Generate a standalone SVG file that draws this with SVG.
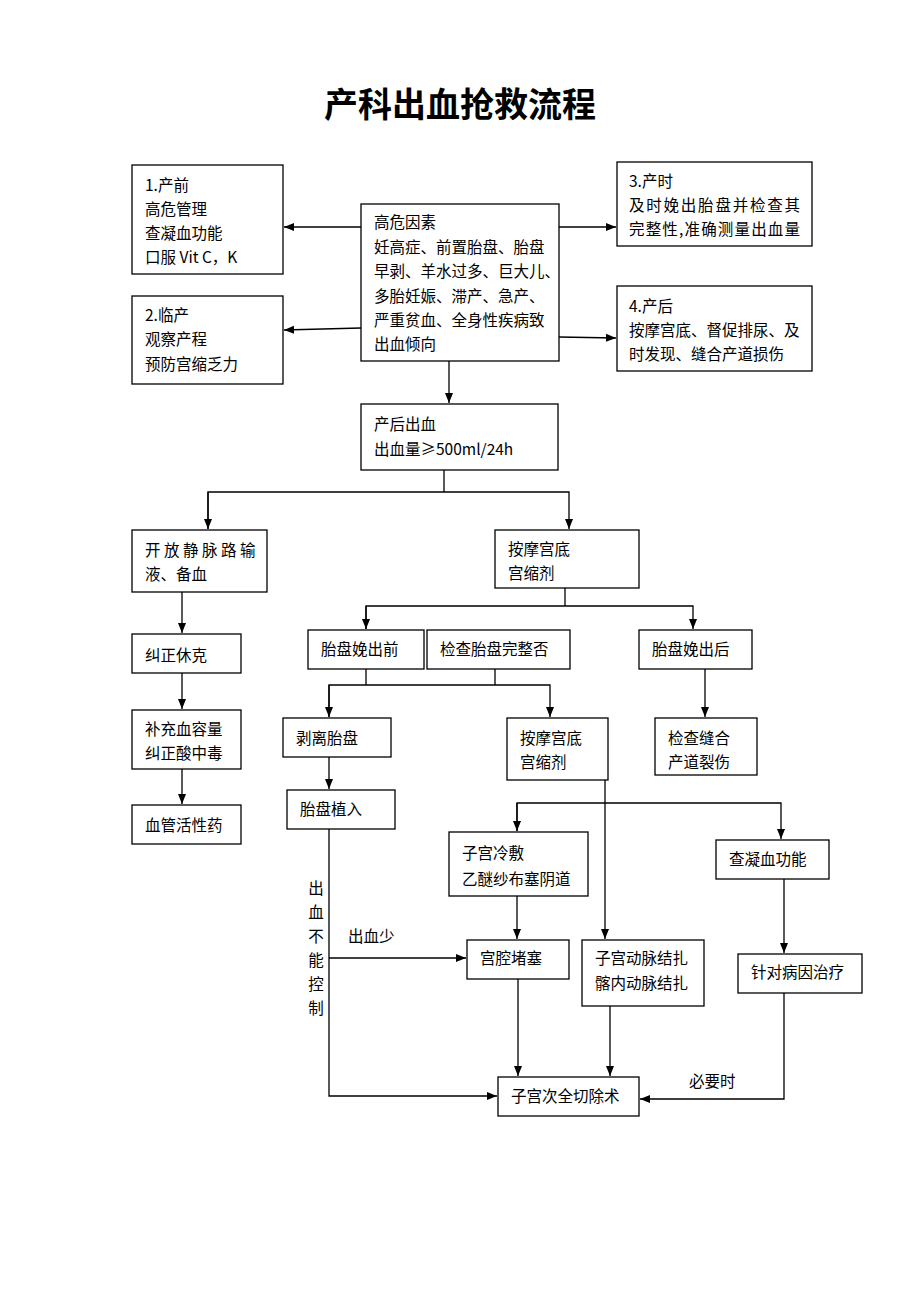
<svg xmlns="http://www.w3.org/2000/svg" width="920" height="1302" viewBox="0 0 920 1302">
<style>
.b{fill:#fff;stroke:#000;stroke-width:1.3}
.t{font-family:"Noto Sans CJK SC","Liberation Sans",sans-serif;font-size:15.5px;fill:#000}
.c{fill:none;stroke:#000;stroke-width:1.3}
.title{font-family:"Noto Sans CJK SC","Liberation Sans",sans-serif;font-size:34px;font-weight:bold;fill:#000}
</style>
<defs>
<marker id="a" viewBox="0 0 10 10" refX="10" refY="5" markerWidth="10" markerHeight="10" markerUnits="userSpaceOnUse" orient="auto">
<path d="M0,1 L10,5 L0,9 Z" fill="#000"/>
</marker>
</defs>
<rect width="920" height="1302" fill="#fff"/>
<text class="title" x="460" y="117" text-anchor="middle">产科出血抢救流程</text>

<g id="connectors">
<line class="c" x1="361" y1="227" x2="284" y2="227" marker-end="url(#a)"/>
<line class="c" x1="361" y1="328" x2="284" y2="330" marker-end="url(#a)"/>
<line class="c" x1="559" y1="227" x2="616" y2="227" marker-end="url(#a)"/>
<line class="c" x1="559" y1="337" x2="616" y2="338" marker-end="url(#a)"/>
<line class="c" x1="449" y1="361" x2="449" y2="403" marker-end="url(#a)"/>
<polyline class="c" points="444,470 444,492"/>
<polyline class="c" points="208,529 208,492 569,492 569,529" marker-end="url(#a)"/>
<line class="c" x1="208" y1="492" x2="208" y2="529" marker-end="url(#a)"/>
<line class="c" x1="182" y1="592" x2="182" y2="633" marker-end="url(#a)"/>
<line class="c" x1="182" y1="673" x2="182" y2="709" marker-end="url(#a)"/>
<line class="c" x1="182" y1="769" x2="182" y2="804" marker-end="url(#a)"/>
<polyline class="c" points="565,588 565,606"/>
<polyline class="c" points="366,629 366,606 693,606 693,629" marker-end="url(#a)"/>
<line class="c" x1="366" y1="606" x2="366" y2="629" marker-end="url(#a)"/>
<polyline class="c" points="366,669 366,685"/>
<polyline class="c" points="495,669 495,685"/>
<polyline class="c" points="329,717 329,685 550,685 550,717" marker-end="url(#a)"/>
<line class="c" x1="329" y1="685" x2="329" y2="717" marker-end="url(#a)"/>
<line class="c" x1="705" y1="669" x2="705" y2="717" marker-end="url(#a)"/>
<line class="c" x1="329" y1="757" x2="329" y2="789" marker-end="url(#a)"/>
<line class="c" x1="605" y1="780" x2="605" y2="939" marker-end="url(#a)"/>
<polyline class="c" points="517,831 517,803 781,803 781,839" marker-end="url(#a)"/>
<line class="c" x1="517" y1="803" x2="517" y2="831" marker-end="url(#a)"/>
<line class="c" x1="517" y1="896" x2="517" y2="939" marker-end="url(#a)"/>
<line class="c" x1="784" y1="879" x2="784" y2="953" marker-end="url(#a)"/>
<polyline class="c" points="329,829 329,1096 497,1096" marker-end="url(#a)"/>
<line class="c" x1="329" y1="958" x2="466" y2="958" marker-end="url(#a)"/>
<line class="c" x1="518" y1="979" x2="518" y2="1076" marker-end="url(#a)"/>
<line class="c" x1="610" y1="1006" x2="610" y2="1076" marker-end="url(#a)"/>
<polyline class="c" points="784,993 784,1099 640,1099" marker-end="url(#a)"/>
<g class="t">
<text x="316" y="894" text-anchor="middle">出</text>
<text x="316" y="918" text-anchor="middle">血</text>
<text x="316" y="942" text-anchor="middle">不</text>
<text x="316" y="966" text-anchor="middle">能</text>
<text x="316" y="990" text-anchor="middle">控</text>
<text x="316" y="1014" text-anchor="middle">制</text>
<text x="348" y="942">出血少</text>
<text x="689" y="1087">必要时</text>
</g>
</g>

<g id="n1"><rect class="b" x="132" y="165" width="151" height="109"/>
<text class="t" x="145" y="191">1.产前</text><text class="t" x="145" y="215">高危管理</text><text class="t" x="145" y="239">查凝血功能</text><text class="t" x="145" y="263">口服 Vit C，K</text></g>

<g id="n2"><rect class="b" x="132" y="296" width="151" height="88"/>
<text class="t" x="145" y="321">2.临产</text><text class="t" x="145" y="345">观察产程</text><text class="t" x="145" y="370">预防宫缩乏力</text></g>

<g id="n0"><rect class="b" x="361" y="204" width="198" height="157"/>
<text class="t" x="374" y="228">高危因素</text>
<text class="t" x="374" y="253">妊高症、前置胎盘、胎盘</text>
<text class="t" x="374" y="277">早剥、羊水过多、巨大儿、</text>
<text class="t" x="374" y="302">多胎妊娠、滞产、急产、</text>
<text class="t" x="374" y="326">严重贫血、全身性疾病致</text>
<text class="t" x="374" y="350">出血倾向</text></g>

<g id="n3"><rect class="b" x="617" y="162" width="195" height="84"/>
<text class="t" x="629" y="187">3.产时</text><text class="t" x="629" y="211" textLength="171" lengthAdjust="spacing">及时娩出胎盘并检查其</text><text class="t" x="629" y="235" textLength="171" lengthAdjust="spacing">完整性,准确测量出血量</text></g>

<g id="n4"><rect class="b" x="617" y="286" width="195" height="85"/>
<text class="t" x="629" y="312">4.产后</text><text class="t" x="629" y="336">按摩宫底、督促排尿、及</text><text class="t" x="629" y="360">时发现、缝合产道损伤</text></g>

<g id="n5"><rect class="b" x="361" y="404" width="197" height="66"/>
<text class="t" x="374" y="430">产后出血</text><text class="t" x="374" y="455">出血量≥500ml/24h</text></g>

<g id="n6"><rect class="b" x="132" y="530" width="135" height="62"/>
<text class="t" x="145" y="556" letter-spacing="3.5">开放静脉路输</text><text class="t" x="145" y="580">液、备血</text></g>

<g id="n7"><rect class="b" x="495" y="530" width="144" height="58"/>
<text class="t" x="508" y="555">按摩宫底</text><text class="t" x="508" y="579">宫缩剂</text></g>

<g id="n8"><rect class="b" x="132" y="634" width="109" height="39"/>
<text class="t" x="145" y="661">纠正休克</text></g>

<g id="n9"><rect class="b" x="132" y="710" width="109" height="59"/>
<text class="t" x="145" y="735">补充血容量</text><text class="t" x="145" y="759">纠正酸中毒</text></g>

<g id="n10"><rect class="b" x="132" y="805" width="109" height="39"/>
<text class="t" x="145" y="831">血管活性药</text></g>

<g id="n11"><rect class="b" x="308" y="630" width="116" height="39"/>
<text class="t" x="321" y="655">胎盘娩出前</text></g>

<g id="n12"><rect class="b" x="427" y="630" width="143" height="39"/>
<text class="t" x="440" y="655">检查胎盘完整否</text></g>

<g id="n13"><rect class="b" x="639" y="630" width="113" height="39"/>
<text class="t" x="652" y="655">胎盘娩出后</text></g>

<g id="n14"><rect class="b" x="283" y="718" width="108" height="39"/>
<text class="t" x="296" y="744">剥离胎盘</text></g>

<g id="n15"><rect class="b" x="507" y="718" width="101" height="62"/>
<text class="t" x="520" y="744">按摩宫底</text><text class="t" x="520" y="768">宫缩剂</text></g>

<g id="n16"><rect class="b" x="655" y="718" width="102" height="57"/>
<text class="t" x="668" y="744">检查缝合</text><text class="t" x="668" y="768">产道裂伤</text></g>

<g id="n17"><rect class="b" x="287" y="790" width="108" height="39"/>
<text class="t" x="300" y="815">胎盘植入</text></g>

<g id="n18"><rect class="b" x="449" y="832" width="139" height="64"/>
<text class="t" x="462" y="859">子宫冷敷</text><text class="t" x="462" y="885">乙醚纱布塞阴道</text></g>

<g id="n19"><rect class="b" x="716" y="840" width="113" height="39"/>
<text class="t" x="729" y="865">查凝血功能</text></g>

<g id="n20"><rect class="b" x="467" y="940" width="102" height="39"/>
<text class="t" x="480" y="964">宫腔堵塞</text></g>

<g id="n21"><rect class="b" x="582" y="940" width="122" height="66"/>
<text class="t" x="595" y="964">子宫动脉结扎</text><text class="t" x="595" y="989">髂内动脉结扎</text></g>

<g id="n22"><rect class="b" x="738" y="954" width="124" height="39"/>
<text class="t" x="751" y="978">针对病因治疗</text></g>

<g id="n23"><rect class="b" x="498" y="1077" width="141" height="39"/>
<text class="t" x="511" y="1102">子宫次全切除术</text></g>
</svg>
